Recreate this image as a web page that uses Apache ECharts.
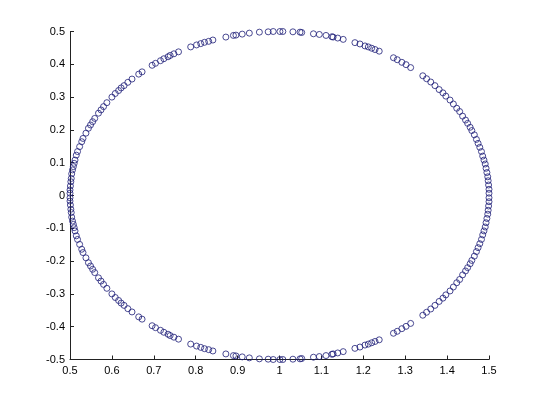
<!DOCTYPE html>
<html>
<head>
<meta charset="utf-8">
<script src="https://cdn.jsdelivr.net/npm/echarts@6/dist/echarts.min.js"></script>
<style>html,body{margin:0;padding:0;background:#fff}#c{width:540px;height:405px}</style>
</head>
<body>
<div id="c"></div>
<script>
// x positions of the points (shared by the upper and lower arcs, which mirror each other)
const xPos = [
  0.500,0.500,0.501,0.502,0.503,0.504,0.506,0.508,0.510,0.512,0.515,0.518,0.523,0.528,0.531,0.538,0.544,0.549,0.554,0.559,0.568,0.574,0.580,0.588,
  0.600,0.608,0.616,0.622,0.629,0.638,0.648,0.664,0.672,0.696,0.704,0.716,0.724,0.734,0.739,0.748,0.759,0.788,0.802,0.812,0.821,0.831,0.841,
  0.872,0.890,0.896,0.911,0.928,0.952,0.973,0.985,1.001,1.008,1.032,1.049,1.053,1.081,1.095,1.111,1.125,1.128,1.139,1.152,
  1.180,1.192,1.204,1.212,1.220,1.228,1.238,1.272,1.281,1.292,1.302,1.313,1.342,1.351,1.361,1.371,1.381,
  1.390,1.397,1.407,1.415,1.423,1.430,1.437,1.444,1.449,1.455,1.459,1.465,1.470,1.474,1.478,1.482,1.485,1.488,1.491,1.493,1.495,1.497,1.498,1.499,1.500,1.500
];
// y values of the upper arc
const yUpper = [
  0.007,0.017,0.029,0.042,0.052,0.066,0.078,0.088,0.098,0.108,0.123,0.134,0.149,0.164,0.174,0.190,0.205,0.215,0.225,0.235,0.251,0.261,0.271,0.283,
  0.300,0.311,0.320,0.328,0.335,0.345,0.355,0.370,0.377,0.397,0.403,0.411,0.417,0.423,0.427,0.432,0.438,0.453,0.459,0.463,0.467,0.470,0.474,
  0.483,0.488,0.489,0.492,0.495,0.498,0.499,0.500,0.500,0.500,0.499,0.498,0.497,0.493,0.491,0.488,0.484,0.483,0.480,0.476,
  0.466,0.462,0.456,0.453,0.449,0.445,0.440,0.420,0.414,0.406,0.399,0.390,0.365,0.356,0.346,0.335,0.323,
  0.313,0.303,0.291,0.279,0.266,0.256,0.242,0.230,0.220,0.208,0.198,0.185,0.171,0.159,0.147,0.134,0.120,0.108,0.096,0.083,0.070,0.057,0.045,0.032,0.019,0.007
];
// y values of the lower arc
const yLower = [
  -0.007,-0.017,-0.029,-0.042,-0.052,-0.066,-0.078,-0.088,-0.098,-0.108,-0.123,-0.134,-0.149,-0.164,-0.174,-0.190,-0.205,-0.215,-0.225,-0.235,-0.251,-0.261,-0.271,-0.283,
  -0.300,-0.311,-0.320,-0.328,-0.335,-0.345,-0.355,-0.370,-0.377,-0.397,-0.403,-0.411,-0.417,-0.423,-0.427,-0.432,-0.438,-0.453,-0.459,-0.463,-0.467,-0.470,-0.474,
  -0.483,-0.488,-0.489,-0.492,-0.495,-0.498,-0.499,-0.500,-0.500,-0.500,-0.499,-0.498,-0.497,-0.493,-0.491,-0.488,-0.484,-0.483,-0.480,-0.476,
  -0.466,-0.462,-0.456,-0.453,-0.449,-0.445,-0.440,-0.420,-0.414,-0.406,-0.399,-0.390,-0.365,-0.356,-0.346,-0.335,-0.323,
  -0.313,-0.303,-0.291,-0.279,-0.266,-0.256,-0.242,-0.230,-0.220,-0.208,-0.198,-0.185,-0.171,-0.159,-0.147,-0.134,-0.120,-0.108,-0.096,-0.083,-0.070,-0.057,-0.045,-0.032,-0.019,-0.007
];
const xTicks = [0.5,0.6,0.7,0.8,0.9,1,1.1,1.2,1.3,1.4,1.5];
const yTicks = [-0.5,-0.4,-0.3,-0.2,-0.1,0,0.1,0.2,0.3,0.4,0.5];

const pts = [];
for (let i = 0; i < xPos.length; i++) pts.push([xPos[i], yUpper[i]]);
for (let i = 0; i < xPos.length; i++) pts.push([xPos[i], yLower[i]]);

const chart = echarts.init(document.getElementById('c'), null, {renderer: 'canvas'});
const axisCommon = {
  type: 'value',
  interval: 0.1,
  axisLine: {show: true, onZero: false, lineStyle: {color: '#222', width: 1}},
  axisTick: {show: true, inside: true, length: 4, lineStyle: {color: '#222'}},
  splitLine: {show: false},
  axisLabel: {color: '#000', fontFamily: 'Liberation Sans, Arial, sans-serif', fontSize: 11}
};
chart.setOption({
  animation: false,
  backgroundColor: '#fff',
  grid: {left: 70, right: 51, top: 31.5, bottom: 45.5, containLabel: false},
  xAxis: Object.assign({}, axisCommon, {
    min: xTicks[0], max: xTicks[xTicks.length - 1],
    axisLabel: Object.assign({}, axisCommon.axisLabel, {margin: 6})
  }),
  yAxis: Object.assign({}, axisCommon, {
    min: yTicks[0], max: yTicks[yTicks.length - 1],
    axisLabel: Object.assign({}, axisCommon.axisLabel, {margin: 5})
  }),
  series: [{
    type: 'scatter',
    data: pts,
    symbol: 'circle',
    symbolSize: 6,
    clip: false,
    itemStyle: {color: 'rgba(0,0,0,0)', borderColor: '#1e1e78', borderWidth: 1}
  }]
});
</script>
</body>
</html>
